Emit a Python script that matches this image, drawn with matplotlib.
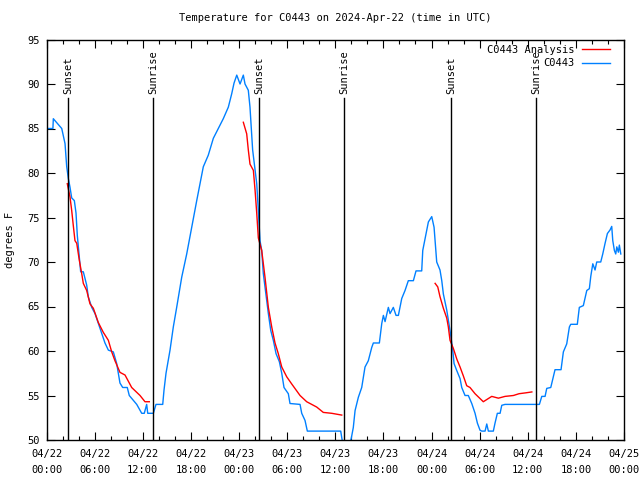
import matplotlib
matplotlib.use("Agg")
import matplotlib.pyplot as plt
import matplotlib.dates as mdates
import numpy as np
import pandas as pd

BASE = pd.Timestamp("2024-04-22 00:00")

# Observed temperature C0443 (hours since 04/22 00:00 UTC, degrees F)
obs_hours = [0.0, 0.8, 0.85, 1.9, 2.31, 2.52, 2.72, 2.93, 3.14, 3.47, 3.68, 3.84, 4.09, 4.26, 4.59,
             5.01, 5.21, 5.64, 6.05, 6.46, 6.88, 7.29, 7.71, 8.33, 8.75, 9.16, 9.5, 10.07, 10.32,
             11.25, 11.87, 12.19, 12.49, 12.62, 13.32, 13.65, 14.49, 14.65, 14.9, 15.4, 15.81,
             16.23, 16.86, 17.48, 18.1, 18.73, 19.55, 20.17, 20.8, 21.42, 22.04, 22.67, 23.09,
             23.38, 23.72, 24.13, 24.54, 24.75, 25.16, 25.37, 25.7, 26.21, 26.41, 26.62, 26.83,
             27.03, 27.24, 27.46, 27.66, 27.96, 28.28, 28.62, 29.03, 29.33, 29.61, 30.15, 30.36,
             31.61, 31.82, 32.23, 32.52, 36.68, 37.0, 37.7, 38.0, 38.25, 38.47, 38.88, 39.3,
             39.71, 40.12, 40.55, 40.75, 41.5, 41.8, 42.0, 42.21, 42.62, 42.83, 43.24, 43.58,
             43.87, 44.29, 44.7, 45.11, 45.74, 46.07, 46.78, 46.91, 47.32, 47.61, 48.03, 48.32,
             48.65, 49.06, 49.28, 49.48, 49.9, 50.31, 50.65, 50.81, 51.15, 51.56, 51.77, 52.18,
             52.59, 53.02, 53.43, 53.72, 54.05, 54.26, 54.68, 54.89, 55.09, 55.71, 55.92, 56.21,
             56.55, 56.76, 57.17, 61.45, 61.75, 62.16, 62.37, 62.87, 63.19, 63.4, 64.15, 64.44,
             64.86, 65.19, 65.36, 66.18, 66.43, 66.93, 67.36, 67.68, 67.86, 68.11, 68.39, 68.6,
             69.1, 69.35, 69.64, 69.93, 70.26, 70.47, 70.6, 70.8, 70.97, 71.1, 71.3, 71.42, 71.6]
obs_temp = [85, 85, 86.1, 85, 83.3, 80.7, 79.4, 78.4, 77.2, 76.9, 75.5, 73, 70.6, 68.9, 68.9,
            67.4, 66.1, 64.9, 64.2, 63.1, 62, 60.9, 60.1, 59.9, 58.6, 56.4, 55.9, 55.9, 55,
            54, 53, 53, 54, 53, 53, 54, 54, 55.6, 57.5, 60.1, 62.7,
            64.9, 68.3, 70.9, 73.9, 76.9, 80.7, 82, 83.9, 85, 86.1, 87.4, 88.9,
            90.1, 91, 90, 91, 90, 89.3, 87.4, 82.6, 78.8, 75.8, 72.4, 71.3,
            68.7, 67.2, 65.7, 64.2, 62.3, 61.2, 59.7, 58.8, 57.5, 55.9, 55.2, 54.1,
            54, 53, 52.2, 51, 51, 49.2, 49.2, 50.2, 51.4, 53.3, 54.8, 55.9,
            58.2, 58.9, 60.4, 60.9, 60.9, 63.1, 64, 63.3, 64.9, 64.2, 64.9, 64,
            64, 65.9, 66.8, 67.9, 67.9, 69, 69, 71.3, 73.2, 74.5, 75.1, 73.9,
            70, 69.1, 67.9, 66.4, 64.6, 62.3, 60.1, 58.6, 57.8, 56.9, 55.9, 55,
            55, 54.1, 53, 51.9, 51.1, 51, 51, 51.8, 51, 51, 51.9, 53,
            53, 53.9, 54, 54, 54.9, 54.9, 55.8, 55.9, 57.1, 57.9, 57.9, 59.9,
            60.8, 62.7, 63, 63, 64.9, 65.1, 66.8, 67, 68.4, 69.8, 69.1, 70,
            70, 70.9, 72.1, 73.2, 73.6, 74, 72.4, 71.3, 70.9, 71.7, 71.1, 71.9, 70.9]

# Analysis C0443 (three segments, NaN separates them)
ana_hours = [2.59, 2.93, 3.14, 3.34, 3.55, 3.77, 4.09, 4.39, 4.59, 5.01, 5.42, 5.84, 6.46, 7.08,
             7.71, 8.13, 8.54, 9.16, 9.79, 10.62, 11.66, 12.28, 12.82, 18.0,
             24.54, 24.96, 25.16, 25.37, 25.79, 26.0, 26.21, 26.41, 26.83, 27.24, 27.66, 28.08,
             28.49, 28.9, 29.33, 29.95, 30.57, 31.61, 32.44, 33.69, 34.51, 35.56, 36.81, 42.0,
             48.45, 48.78, 49.06, 49.48, 49.9, 50.1, 50.31, 50.72, 51.15, 51.56, 51.97, 52.39,
             52.8, 53.43, 54.46, 55.51, 56.34, 57.17, 58.21, 58.91, 59.76, 60.51]
ana_temp = [78.8, 77.3, 75.8, 74.1, 72.4, 72.1, 70.2, 68.7, 67.6, 66.8, 65.3, 64.8, 63.2, 62.1,
            61.2, 59.9, 58.9, 57.6, 57.3, 55.9, 55, 54.3, 54.3, np.nan,
            85.7, 84.4, 82.6, 81, 80.3, 78.1, 75.5, 72.7, 71.3, 68.3, 64.9, 62.7,
            60.9, 59.7, 58.2, 57.1, 56.3, 55, 54.3, 53.7, 53.1, 53, 52.8, np.nan,
            67.6, 67.2, 66.1, 64.8, 63.7, 62.7, 61.2, 60.3, 59.1, 58.2, 57.2, 56.1,
            55.9, 55.2, 54.3, 54.9, 54.7, 54.9, 55, 55.2, 55.3, 55.4]

# Sun events (hours since 04/22 00:00 UTC)
sun_hours = [2.72, 13.32, 26.55, 37.15, 50.47, 61.08]
sun_labels = ["Sunset", "Sunrise", "Sunset", "Sunrise", "Sunset", "Sunrise"]

xtick_times = pd.date_range("2024-04-22 00:00", "2024-04-25 00:00", freq="6h")
ytick_vals = [50, 55, 60, 65, 70, 75, 80, 85, 90, 95]

def to_time(h):
    return BASE + pd.to_timedelta(np.asarray(h, dtype=float), unit="h")

FONT = "DejaVu Sans Mono"
FS = 7.5
plt.rcParams["font.family"] = FONT

fig = plt.figure(figsize=(6.4, 4.8), dpi=100)
ax = fig.add_axes([46.5 / 640, 1 - 440 / 480, (624 - 46.5) / 640, (440 - 39.5) / 480])

ax.plot(to_time(ana_hours), ana_temp, color="#ff0000", lw=1.0, label="C0443 Analysis", zorder=3)
ax.plot(to_time(obs_hours), obs_temp, color="#0080ff", lw=1.0, label="C0443", zorder=2)

for h, lab in zip(sun_hours, sun_labels):
    t = to_time([h])[0]
    ax.plot([t, t], [50, 88.4], color="black", lw=1.0, zorder=4)
    ax.text(t, 88.9, lab, rotation=90, ha="center", va="bottom", fontsize=FS, family=FONT)

ax.set_xlim(xtick_times[0], xtick_times[-1])
ax.set_ylim(50, 95)
ax.set_xticks(xtick_times, [t.strftime("%m/%d\n%H:%M") for t in xtick_times],
              linespacing=1.7, fontsize=FS)
ax.xaxis.set_minor_locator(mdates.HourLocator(byhour=range(0, 24, 2)))
ax.set_yticks(ytick_vals, [str(v) for v in ytick_vals], fontsize=FS)
ax.tick_params(axis="both", which="major", direction="in", length=6, width=0.8,
               top=True, right=True, pad=5)
ax.tick_params(axis="x", which="major", pad=6.5)
ax.tick_params(axis="both", which="minor", direction="in", length=3, width=0.8,
               top=True, right=True)
for sp in ax.spines.values():
    sp.set_linewidth(1.0)

ax.set_title("Temperature for C0443 on 2024-Apr-22 (time in UTC)", fontsize=FS, pad=13)
fig.text(10 / 640, 1 - 240 / 480, "degrees F", rotation=90, ha="center", va="center", fontsize=FS)

leg = ax.legend(loc="upper right", bbox_to_anchor=(0.9758, 0.986), frameon=False, fontsize=FS,
                markerfirst=False, handlelength=2.7, borderaxespad=0.0, borderpad=0.0,
                labelspacing=0.3, handletextpad=0.7)
for t in leg.get_texts():
    t.set_ha("right")

fig.savefig("out.png", dpi=100)
